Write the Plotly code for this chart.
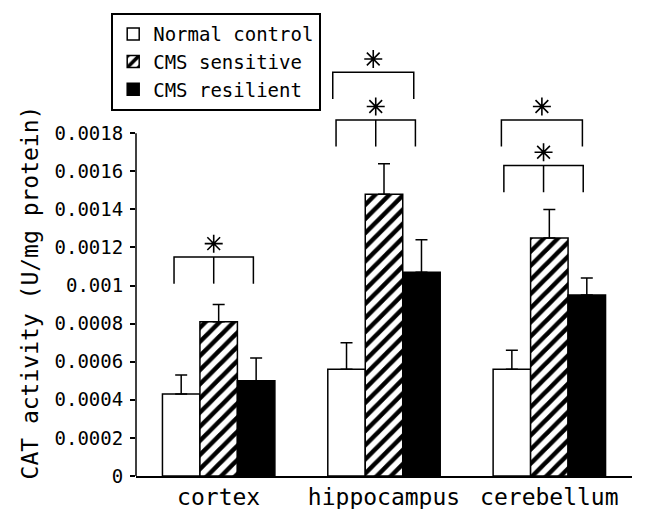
import plotly.graph_objects as go

# ---- data ----
regions = ["cortex", "hippocampus", "cerebellum"]
groups = ["Normal control", "CMS sensitive", "CMS resilient"]
means = {
    "Normal control": [0.00043, 0.00056, 0.00056],
    "CMS sensitive": [0.00081, 0.00148, 0.00125],
    "CMS resilient": [0.00050, 0.00107, 0.00095],
}
errors = {
    "Normal control": [0.00010, 0.00014, 0.00010],
    "CMS sensitive": [0.00009, 0.00016, 0.00015],
    "CMS resilient": [0.00012, 0.00017, 0.00009],
}
y_tickvals = [0, 0.0002, 0.0004, 0.0006, 0.0008, 0.001, 0.0012, 0.0014, 0.0016, 0.0018]
y_ticktext = ["0", "0.0002", "0.0004", "0.0006", "0.0008", "0.001",
              "0.0012", "0.0014", "0.0016", "0.0018"]

# significance brackets: group index, left/right offsets, level, has middle tick
br_group = [0, 1, 1, 2, 2]
br_left = [-0.27, -0.31, -0.29, -0.29, -0.275]
br_right = [0.21, 0.18, 0.19, 0.20, 0.205]
br_level = [0.00115, 0.00212, 0.00187, 0.00187, 0.00163]
br_mid = [True, False, True, False, True]

FONT = "DejaVu Sans Mono"
styles = {
    "Normal control": dict(color="white", pattern=None),
    "CMS sensitive": dict(color="white",
                          pattern=dict(shape="/", fgcolor="black", bgcolor="white",
                                       fgopacity=1, size=10, solidity=0.45)),
    "CMS resilient": dict(color="black", pattern=None),
}

fig = go.Figure()
for i, g in enumerate(groups):
    st = styles[g]
    marker = dict(color=st["color"], line=dict(color="black", width=1.5))
    if st["pattern"]:
        marker["pattern"] = st["pattern"]
    fig.add_trace(go.Bar(
        name=g, x=regions, y=means[g], marker=marker,
        legendgroup=g,
        error_y=dict(type="data", array=errors[g], arrayminus=[0] * len(regions),
                     symmetric=False, color="black", thickness=1.5, width=6),
    ))

drop = 0.00014
star_x, star_y = [], []
for gi, l, r, lev, mid in zip(br_group, br_left, br_right, br_level, br_mid):
    x0, x1 = gi + l, gi + r
    path = f"M {x0} {lev - drop} L {x0} {lev} L {x1} {lev} L {x1} {lev - drop}"
    fig.add_shape(type="path", path=path, xref="x", yref="y",
                  line=dict(color="black", width=1.5))
    xm = gi + (l + r) / 2
    if mid:
        fig.add_shape(type="line", x0=xm, x1=xm, y0=lev, y1=lev - drop,
                      xref="x", yref="y", line=dict(color="black", width=1.5))
    star_x.append(xm)
    star_y.append(lev + 0.00007)

fig.add_trace(go.Scatter(
    x=star_x, y=star_y, mode="markers", showlegend=False, hoverinfo="skip",
    xaxis="x2", cliponaxis=False,
    marker=dict(symbol="asterisk-open", size=15, color="black",
                line=dict(color="black", width=1.6)),
))

# y axis line only up to the last tick
fig.add_shape(type="line", xref="paper", yref="y", x0=0, x1=0,
              y0=0, y1=y_tickvals[-1], line=dict(color="black", width=1.5))

# y axis title centred on the drawn axis
fig.add_annotation(text="CAT activity (U/mg protein)", textangle=-90,
                   xref="paper", yref="y", x=-0.214, y=y_tickvals[-1] * 0.535,
                   xanchor="center", yanchor="middle",
                   showarrow=False, font=dict(family=FONT, size=23, color="black"))

fig.update_layout(
    width=646, height=509,
    margin=dict(l=136, r=14, t=38, b=33, autoexpand=False),
    paper_bgcolor="white", plot_bgcolor="white",
    font=dict(family=FONT, color="black", size=19),
    barmode="group", bargap=0.32, bargroupgap=0,
    showlegend=True,
    legend=dict(x=-0.05, y=1.057, xanchor="left", yanchor="top",
                bordercolor="black", borderwidth=2, bgcolor="white",
                font=dict(family=FONT, size=19, color="black"),
                tracegroupgap=4, traceorder="normal"),
    xaxis=dict(
        type="category", range=[-0.5, 2.5], showline=True, linecolor="black",
        linewidth=1.5, ticks="", showgrid=False, zeroline=False,
        automargin=False,
        tickfont=dict(family=FONT, size=23),
    ),
    xaxis2=dict(overlaying="x", range=[-0.5, 2.5], visible=False, automargin=False),
    yaxis=dict(
        range=[0, 0.0023], showline=False, showgrid=False, zeroline=False,
        automargin=False,
        tickvals=y_tickvals, ticktext=y_ticktext, ticks="outside", ticklen=5,
        tickwidth=1.5, tickcolor="black", ticklabelstandoff=3,
        tickfont=dict(family=FONT, size=19),
    ),
)

fig.write_html("out.html")
